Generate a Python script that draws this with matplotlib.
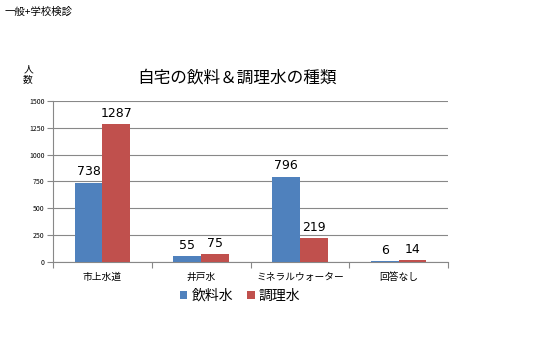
import matplotlib.pyplot as plt
import numpy as np

plt.rcParams['font.family'] = ['Noto Sans CJK JP', 'DejaVu Sans']

categories = ['市上水道', '井戸水', 'ミネラルウォーター', '回答なし']
drinking = [738, 55, 796, 6]
cooking = [1287, 75, 219, 14]
series_names = ['飲料水', '調理水']

fig = plt.figure(figsize=(5.33, 3.6), dpi=100)
ax = fig.add_axes([53 / 533, 1 - 262 / 360, 395 / 533, 161 / 360])

x = np.arange(len(categories))
w = 0.28
b1 = ax.bar(x - w / 2, drinking, w, color='#4F81BD', label=series_names[0], zorder=3)
b2 = ax.bar(x + w / 2, cooking, w, color='#C0504D', label=series_names[1], zorder=3)

for bars in (b1, b2):
    for r in bars:
        ax.text(r.get_x() + r.get_width() / 2, r.get_height() + 40, str(int(r.get_height())),
                ha='center', va='bottom', fontsize=9, family=['DejaVu Sans'])

ax.set_xlim(-0.5, 3.5)
ax.set_ylim(0, 1500)
ax.set_yticks(range(0, 1501, 250))
ax.set_xticks(np.arange(-0.5, 4, 1), minor=False)
ax.set_xticklabels([])
ax.set_xticks(x, minor=True)
ax.set_xticklabels(categories, minor=True, fontsize=7)
ax.tick_params(axis='x', which='minor', length=0, pad=7)
ax.tick_params(axis='x', which='major', length=4, color='#888888', direction='out')
ax.tick_params(axis='y', labelsize=5, length=4, color='#888888', pad=2)
ax.grid(axis='y', color='#888888', linewidth=0.8, zorder=0)
for s in ['top', 'right']:
    ax.spines[s].set_visible(False)
for s in ['left', 'bottom']:
    ax.spines[s].set_color('#888888')

fig.text(237 / 533, 1 - 78 / 360, '自宅の飲料＆調理水の種類', ha='center', va='center', fontsize=12)
fig.text(28 / 533, 1 - 74 / 360, '人\n数', ha='center', va='center', fontsize=7, linespacing=1.0)
fig.text(5 / 533, 1 - 12 / 360, '一般+学校検診', ha='left', va='center', fontsize=7.5)

fig.legend(handles=[b1, b2], loc='center', bbox_to_anchor=(240 / 533, 1 - 296 / 360), ncol=2,
           frameon=False, fontsize=10, handlelength=0.55, handleheight=0.55, handletextpad=0.3,
           columnspacing=1.0)

fig.savefig('out.png', dpi=100)
